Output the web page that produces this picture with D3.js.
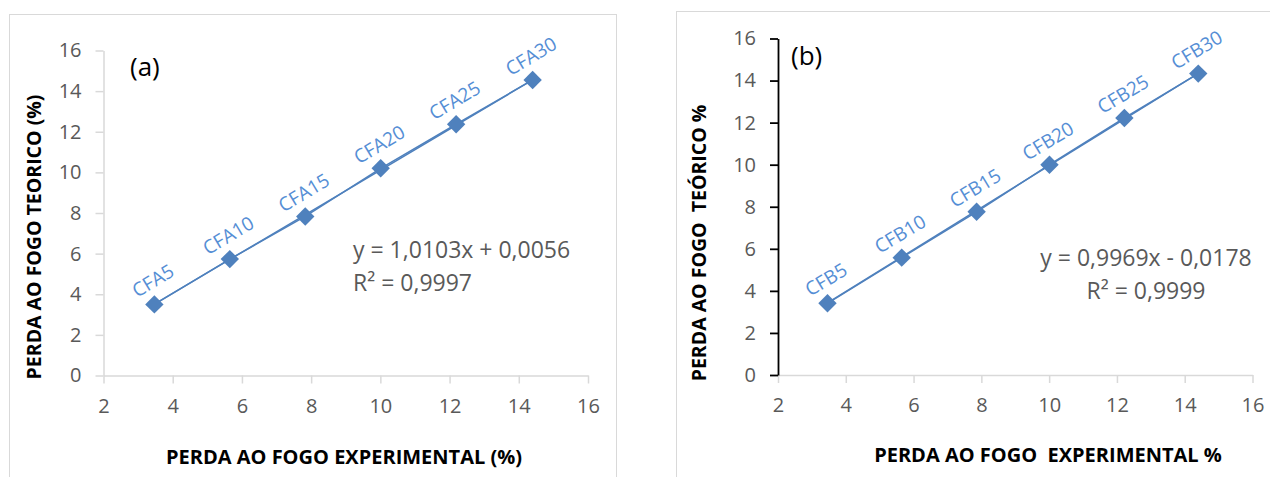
<!DOCTYPE html>
<html>
<head>
<meta charset="utf-8">
<script src="https://cdn.jsdelivr.net/npm/d3@7"></script>
<style>
  body { margin: 0; background: #fff; }
  svg { display: block; font-family: "Open Sans", sans-serif; }
</style>
</head>
<body>
<div id="chart"></div>
<script>
const xTicks = [2, 4, 6, 8, 10, 12, 14, 16];
const yTicks = [0, 2, 4, 6, 8, 10, 12, 14, 16];

const labelsA = ["CFA5", "CFA10", "CFA15", "CFA20", "CFA25", "CFA30"];
const expA = [3.47, 5.65, 7.83, 10.01, 12.19, 14.4];
const teoA = [3.5, 5.73, 7.83, 10.2, 12.37, 14.55];
const fitA = {slope: 1.0103, intercept: 0.0056};
const eqA = ["y = 1,0103x + 0,0056", "R² = 0,9997"];

const labelsB = ["CFB5", "CFB10", "CFB15", "CFB20", "CFB25", "CFB30"];
const expB = [3.46, 5.65, 7.86, 10.01, 12.22, 14.4];
const teoB = [3.41, 5.58, 7.76, 10.0, 12.22, 14.33];
const fitB = {slope: 0.9969, intercept: -0.0178};
const eqB = ["y = 0,9969x - 0,0178", "R² = 0,9999"];

const width = 1270;
const height = 477;
const blue = "#4f81bd";
const labelBlue = "#558ed5";
const grey = "#595959";
const axisGrey = "#d9d9d9";

const svg = d3.select("#chart").append("svg")
    .attr("width", width)
    .attr("height", height);

function drawPanel(p) {
    const g = svg.append("g");

    // panel frame
    g.append("rect")
        .attr("x", p.frame[0] + 0.5)
        .attr("y", p.frame[1] + 0.5)
        .attr("width", p.frame[2])
        .attr("height", p.frame[3])
        .attr("fill", "none")
        .attr("stroke", axisGrey);

    const x = d3.scaleLinear().domain([2, 16]).range(p.xRange);
    const y = d3.scaleLinear().domain([0, 16]).range(p.yRange);

    // x axis
    const xAxis = g.append("g")
        .attr("transform", `translate(0,${p.yRange[0]})`)
        .call(d3.axisBottom(x).tickValues(xTicks).tickSize(8).tickPadding(15).tickSizeOuter(0));
    xAxis.select(".domain").attr("stroke", axisGrey).attr("stroke-width", 1.5);
    xAxis.selectAll(".tick line").attr("stroke", axisGrey).attr("stroke-width", 1.5);
    xAxis.selectAll(".tick text")
        .attr("fill", grey)
        .style("font-size", "20px")
        .attr("font-family", "Open Sans");

    // y axis
    const yAxis = g.append("g")
        .attr("transform", `translate(${p.xRange[0]},0)`)
        .call(d3.axisLeft(y).tickValues(yTicks).tickSize(8).tickPadding(14).tickSizeOuter(0));
    yAxis.select(".domain").attr("stroke", p.yAxisColor).attr("stroke-width", p.yAxisWidth);
    yAxis.selectAll(".tick line").attr("stroke", p.yAxisColor).attr("stroke-width", p.yAxisWidth);
    yAxis.selectAll(".tick text")
        .attr("fill", grey)
        .style("font-size", "20px")
        .attr("font-family", "Open Sans");

    const pts = p.exp.map((v, i) => ({x: v, y: p.teo[i], label: p.labels[i]}));

    // trendline
    const xMin = d3.min(p.exp), xMax = d3.max(p.exp);
    g.append("line")
        .attr("x1", x(xMin))
        .attr("y1", y(p.fit.slope * xMin + p.fit.intercept))
        .attr("x2", x(xMax))
        .attr("y2", y(p.fit.slope * xMax + p.fit.intercept))
        .attr("stroke", blue)
        .attr("stroke-width", 1.5);

    // series line
    g.append("path")
        .datum(pts)
        .attr("fill", "none")
        .attr("stroke", blue)
        .attr("stroke-width", 1.5)
        .attr("d", d3.line().x(d => x(d.x)).y(d => y(d.y)));

    // diamond markers
    g.selectAll(".marker")
        .data(pts)
        .join("rect")
        .attr("class", "marker")
        .attr("x", -6.5)
        .attr("y", -6.5)
        .attr("width", 13)
        .attr("height", 13)
        .attr("fill", blue)
        .attr("transform", d => `translate(${x(d.x)},${y(d.y)}) rotate(45)`);

    // data labels
    g.selectAll(".dlabel")
        .data(pts)
        .join("text")
        .attr("class", "dlabel")
        .attr("text-anchor", "middle")
        .attr("fill", labelBlue)
        .style("font-size", "19px")
        .attr("transform", d => `translate(${x(d.x) + 2},${y(d.y) - 18}) rotate(-31)`)
        .text(d => d.label);

    // panel tag
    g.append("text")
        .attr("x", p.tag[0])
        .attr("y", p.tag[1])
        .attr("fill", "#000")
        .style("font-size", "26px")
        .text(p.tag[2]);

    // equation
    const eq = g.append("text")
        .attr("fill", grey)
        .attr("text-anchor", p.eqAnchor)
        .style("font-size", "23px");
    p.eq.forEach((line, i) => {
        eq.append("tspan")
            .attr("x", p.eqPos[0])
            .attr("y", p.eqPos[1] + i * 33)
            .text(line);
    });

    // axis titles
    g.append("text")
        .attr("x", p.xTitle[0])
        .attr("y", p.xTitle[1])
        .attr("text-anchor", "middle")
        .attr("font-weight", "bold")
        .style("font-size", "20px")
        .attr("fill", "#000")
        .attr("xml:space", "preserve")
        .text(p.xTitle[2]);

    g.append("text")
        .attr("transform", `translate(${p.yTitle[0]},${p.yTitle[1]}) rotate(-90)`)
        .attr("text-anchor", "middle")
        .attr("font-weight", "bold")
        .style("font-size", "19.5px")
        .attr("fill", "#000")
        .attr("xml:space", "preserve")
        .text(p.yTitle[2]);
}

drawPanel({
    frame: [9, 14, 607, 480],
    xRange: [103.5, 588],
    yRange: [375.5, 50.5],
    yAxisColor: axisGrey,
    yAxisWidth: 1.5,
    exp: expA, teo: teoA, labels: labelsA, fit: fitA,
    tag: [130, 76, "(a)"],
    eq: eqA, eqAnchor: "start", eqPos: [353, 258],
    xTitle: [344, 464, "PERDA AO FOGO EXPERIMENTAL (%)"],
    yTitle: [41, 237, "PERDA AO FOGO TEORICO (%)"]
});

drawPanel({
    frame: [676, 11, 620, 480],
    xRange: [778, 1252.5],
    yRange: [375, 38.5],
    yAxisColor: "#000",
    yAxisWidth: 1.8,
    exp: expB, teo: teoB, labels: labelsB, fit: fitB,
    tag: [791, 65, "(b)"],
    eq: eqB, eqAnchor: "middle", eqPos: [1146, 266],
    xTitle: [1048, 462, "PERDA AO FOGO  EXPERIMENTAL %"],
    yTitle: [706, 243, "PERDA AO FOGO  TEÓRICO %"]
});
</script>
</body>
</html>
